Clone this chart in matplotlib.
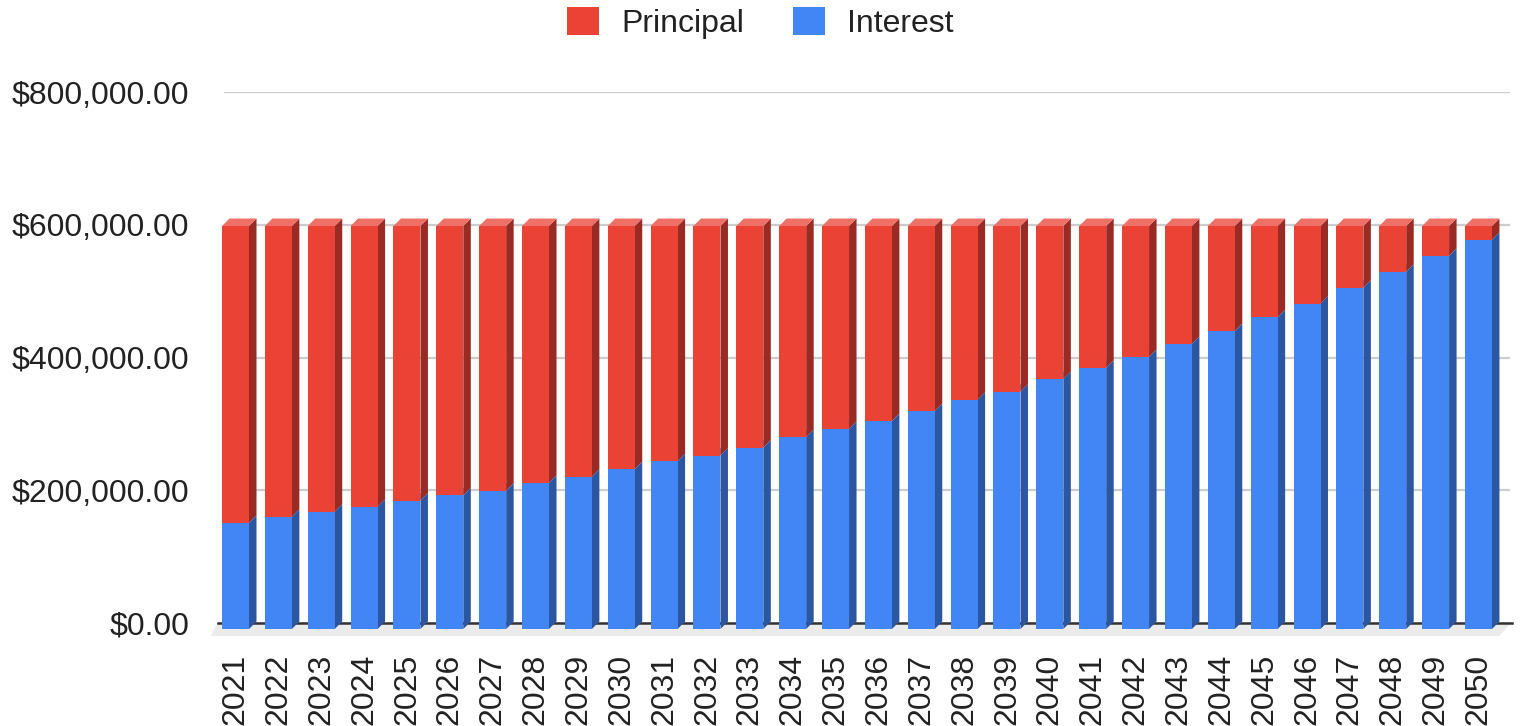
import matplotlib
matplotlib.use("Agg")
import matplotlib.pyplot as plt
from matplotlib.patches import Polygon, Patch
from matplotlib.ticker import FuncFormatter
import numpy as np

plt.rcParams['font.family'] = ['Liberation Sans', 'DejaVu Sans']

years = [str(y) for y in range(2021, 2051)]
interest = [158300, 167200, 174700, 182100, 191100, 199000, 206000, 217900, 226800, 238200,
            250100, 258100, 270000, 285900, 297800, 309700, 324600, 341400, 353300, 372200,
            389000, 405000, 424800, 443700, 464500, 484400, 508200, 532000, 555800, 579700]
total = [600000] * 30
principal = [t - i for t, i in zip(total, interest)]
y_ticks = [0, 200000, 400000, 600000, 800000]

W, H = 1521, 726
fig = plt.figure(figsize=(W / 100, H / 100), dpi=100)

def fx(px):
    return px / W

def fy(py):
    return 1 - py / H

RED, RED_SIDE, RED_TOP = '#EA4335', '#9A2B24', '#EE7066'
BLUE, BLUE_SIDE, BLUE_TOP = '#4285F4', '#2B56A2', '#7BA9F7'
TXT = '#222222'
FS = 23

# floor (drawn first, behind everything)
floor = Polygon([(fx(211), fy(636)), (fx(1499), fy(636)), (fx(1512), fy(622)), (fx(218), fy(622))],
                closed=True, transform=fig.transFigure, facecolor='#ebebeb', edgecolor='none', zorder=-1)
fig.patches.append(floor)

# back wall axes: gridlines + y labels
axb = fig.add_axes([fx(224), fy(623), fx(1510) - fx(224), fy(92) - fy(623)])
axb.set_ylim(0, 800000)
axb.set_xlim(0, 1)
axb.set_facecolor('none')
for s in axb.spines.values():
    s.set_visible(False)
axb.set_xticks([])
axb.set_yticks(y_ticks)
axb.yaxis.set_major_formatter(FuncFormatter(lambda v, p: '${:,.2f}'.format(v)))
axb.tick_params(axis='y', length=0, pad=25, labelsize=FS, labelcolor=TXT)
for t in y_ticks[1:]:
    axb.axhline(t, color='#cccccc', lw=1.6, zorder=1)
axb.plot([(218 - 224) / 1286, (1512 - 224) / 1286], [0, 0], color='#333333', lw=1.8,
         clip_on=False, zorder=2)

# front axes: bars
n = len(years)
step = 42.86
left_px = 235.5 - step / 2
axf = fig.add_axes([fx(left_px), fy(629), fx(step * n), fy(629 - 537.3) - fy(629)])
axf.set_xlim(-0.5, n - 0.5)
axf.set_ylim(0, 800000)
axf.set_facecolor('none')
for s in axf.spines.values():
    s.set_visible(False)
axf.set_yticks([])

x = np.arange(n)
bw = 27 / step
depth_px = 7.5
ddx = depth_px / step
ddy = depth_px / (537.3 / 800000)

def box_faces(ax, x0, x1, y0, y1, side, top):
    ax.add_patch(Polygon([(x1, y0), (x1 + ddx, y0 + ddy), (x1 + ddx, y1 + ddy), (x1, y1)],
                         closed=True, facecolor=side, edgecolor='none', zorder=3))
    ax.add_patch(Polygon([(x0, y1), (x0 + ddx, y1 + ddy), (x1 + ddx, y1 + ddy), (x1, y1)],
                         closed=True, facecolor=top, edgecolor='none', zorder=3))

for i in range(n):
    x0, x1 = x[i] - bw / 2, x[i] + bw / 2
    box_faces(axf, x0, x1, 0, interest[i], BLUE_SIDE, BLUE_TOP)
    axf.bar(x[i], interest[i], width=bw, color=BLUE, zorder=4)
    box_faces(axf, x0, x1, interest[i], interest[i] + principal[i], RED_SIDE, RED_TOP)
    axf.bar(x[i], principal[i], bottom=interest[i], width=bw, color=RED, zorder=4)

axf.set_xticks(x)
axf.set_xticklabels(years, rotation=90, fontsize=FS, color=TXT)
axf.tick_params(axis='x', length=0, pad=18)

handles = [Patch(facecolor=RED, edgecolor='none'), Patch(facecolor=BLUE, edgecolor='none')]
leg = fig.legend(handles, ['Principal', 'Interest'], loc='center', bbox_to_anchor=(0.5, fy(23)),
                 ncol=2, frameon=False, fontsize=FS, handlelength=1.0, handleheight=1.0,
                 handletextpad=0.68, columnspacing=1.55)
for t in leg.get_texts():
    t.set_color(TXT)

fig.savefig('out.png', dpi=100)
